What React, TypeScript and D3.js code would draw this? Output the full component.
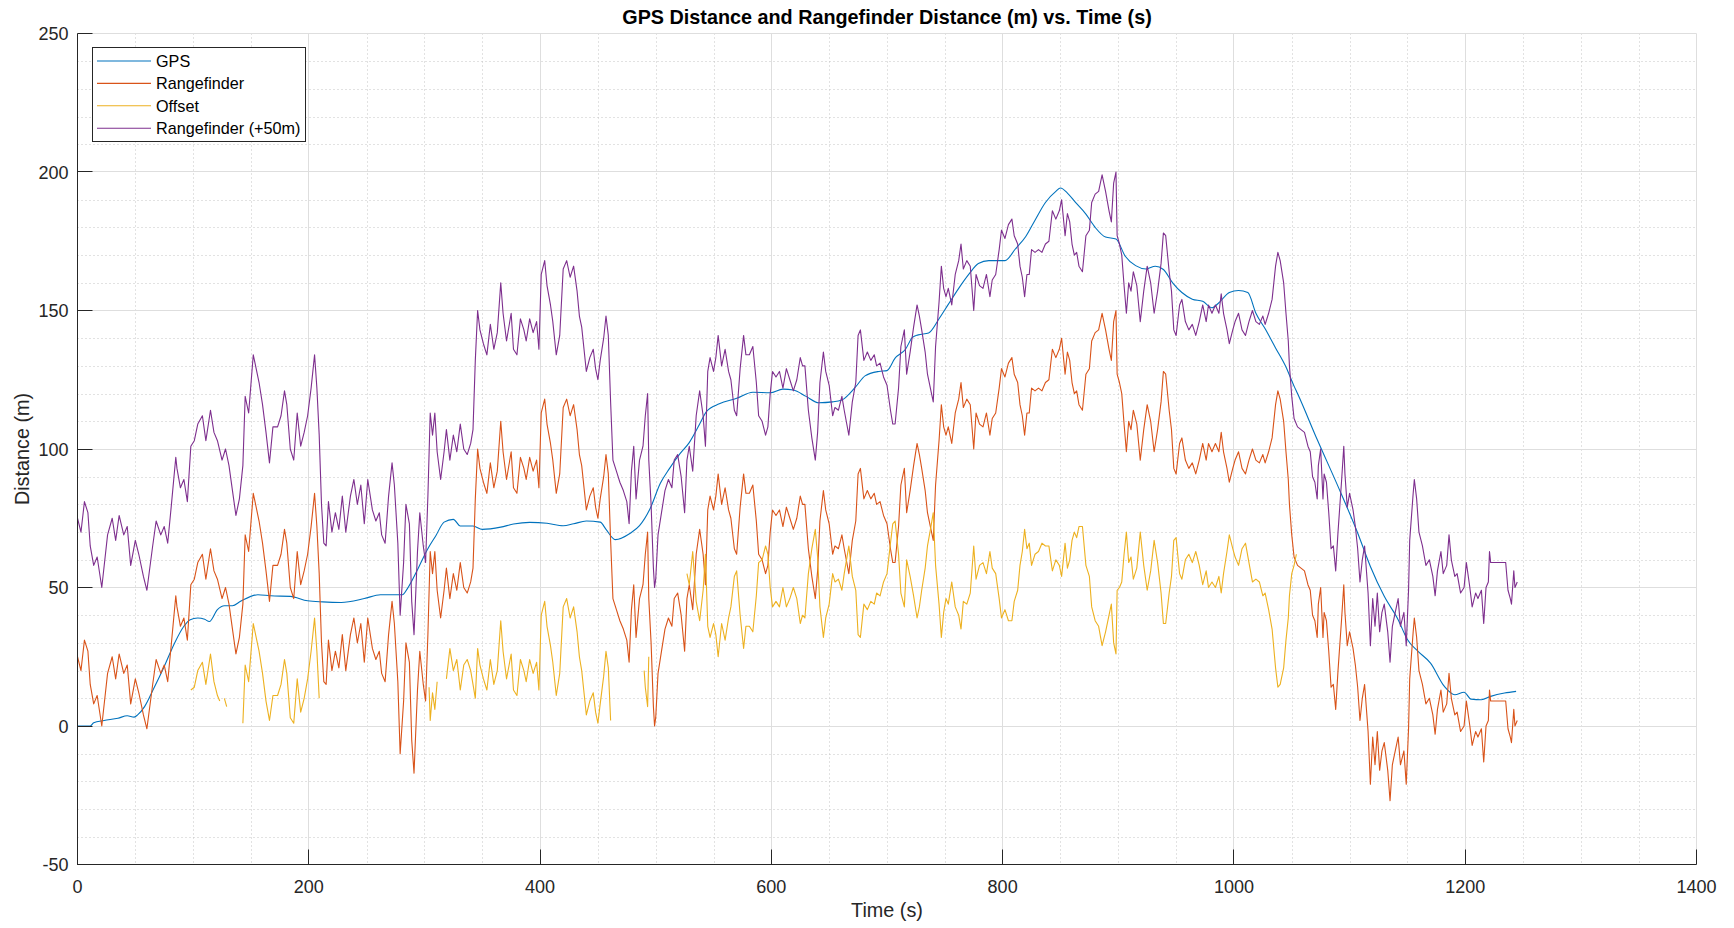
import React from "react";
import * as d3 from "d3";

// ---------- data ----------
const xTicks = [0, 200, 400, 600, 800, 1000, 1200, 1400];
const yTicks = [-50, 0, 50, 100, 150, 200, 250];
const seriesNames = ["GPS", "Rangefinder", "Offset", "Rangefinder (+50m)"];
const seriesColors = ["#0072BD", "#D95319", "#EDB120", "#7E2F8E"];

// GPS distance [time s, distance m]
const gps: [number, number][] = [
  [0, 0], [11, 0], [14, 1.2], [23, 2], [35, 2.8], [43, 3.7], [49, 3.2], [52, 4], [58, 7], [66, 13.6],
  [75, 21.5], [84, 30], [92, 36], [97, 38.3], [104, 39], [110, 38.5], [114, 37.7], [121, 42], [127, 43.4],
  [134, 43.4], [141, 45], [156, 47.4], [167, 47], [184, 46.8], [199, 45.2], [212, 44.8], [228, 44.6],
  [248, 46], [262, 47.4], [281, 47.4], [285, 49.4], [294, 56.4], [302, 63.3], [310, 68.8], [317, 73.6],
  [325, 74.6], [331, 72.2], [342, 72.2], [350, 71], [366, 71.8], [377, 72.9], [391, 73.5], [406, 73.2],
  [420, 72.3], [429, 73], [440, 74], [452, 73.6], [457, 71], [465, 67.3], [478, 69.6], [486, 72.3],
  [495, 78.3], [504, 87.6], [512, 93], [521, 98.3], [529, 102.3], [538, 109], [544, 113.6], [555, 116.3],
  [570, 118.3], [584, 120.5], [599, 120.3], [610, 121.6], [619, 121.3], [630, 119], [641, 116.7],
  [653, 117], [661, 117.7], [673, 122.5], [681, 126.4], [693, 128], [700, 128.3], [707, 132.8],
  [716, 136], [722, 140.3], [727, 141.2], [736, 141.9], [745, 147], [753, 152.2], [762, 158],
  [771, 163.2], [779, 167], [788, 168], [802, 168], [811, 172.2], [820, 176.7], [828, 182.6], [837, 189],
  [846, 193], [850, 194.2], [856, 192.4], [863, 189], [872, 184.8], [880, 180], [889, 176.5],
  [898, 175.8], [906, 169.6], [915, 166.2], [924, 165], [932, 166], [939, 164.8], [947, 160],
  [955, 156.5], [964, 154.1], [973, 153.3], [981, 151], [987, 152.8], [996, 156.5], [1004, 157.2],
  [1012, 156.5], [1019, 149], [1027, 143.4], [1036, 136.5], [1045, 129.6], [1052, 122.7], [1055, 120],
  [1072, 103.4], [1090, 86.5], [1107, 69.7], [1118, 57.6], [1130, 46.8], [1142, 38.4], [1150, 31.2],
  [1159, 27], [1170, 22.7], [1182, 14.3], [1191, 11.3], [1199, 12.2], [1205, 9.7], [1214, 9.5],
  [1222, 10.7], [1234, 11.9], [1244, 12.5],
];

// Rangefinder distance [time s, distance m]
const rangefinder: [number, number][] = [
  [0, 25], [3, 20], [6, 31], [9, 27], [11, 15], [14, 8], [17, 11], [21, 0], [26, 19], [30, 25], [33, 17],
  [36, 26], [40, 19], [43, 22], [46, 8], [50, 17], [53, 12], [57, 4], [60, -1], [65, 15], [68, 24], [72, 19],
  [75, 22], [78, 16], [81, 29], [85, 47], [86, 43], [89, 36], [92, 39], [95, 31], [98, 51], [101, 53],
  [104, 59], [108, 62], [111, 53], [115, 64], [118, 56], [121, 53], [125, 46], [128, 50], [131, 44],
  [134, 35], [137, 26], [140, 32], [143, 44], [145, 69], [148, 63], [152, 84], [154, 80], [157, 74],
  [160, 66], [163, 56], [166, 45], [169, 58], [173, 58], [176, 62], [179, 71], [181, 66], [184, 50],
  [187, 46], [190, 63], [193, 51], [196, 56], [199, 62], [202, 72], [205, 84], [207, 72], [209, 55],
  [211, 30], [213, 16], [215, 15], [217, 31], [220, 20], [223, 27], [226, 21], [229, 33], [232, 20],
  [236, 33], [239, 39], [242, 30], [245, 37], [248, 23], [251, 39], [255, 28], [258, 24], [261, 27],
  [263, 19], [266, 16], [269, 33], [272, 45], [274, 37], [277, 16], [279, -10], [282, 9], [284, 30],
  [287, 23], [289, -5], [291, -17], [294, 13], [296, 27], [299, 15], [301, 9], [303, 33], [305, 63],
  [307, 55], [309, 63], [311, 49], [314, 39], [317, 49], [319, 57], [322, 46], [325, 55], [328, 49],
  [331, 59], [334, 50], [337, 48], [340, 52], [342, 57], [344, 82], [346, 100], [348, 93], [351, 88],
  [354, 84], [357, 95], [360, 86], [363, 92], [366, 110], [368, 99], [371, 89], [375, 99], [377, 86],
  [380, 84], [383, 97], [386, 93], [388, 89], [391, 97], [394, 92], [397, 96], [399, 86], [401, 113],
  [404, 118], [406, 109], [409, 102], [411, 96], [414, 84], [417, 91], [420, 115], [423, 118], [426, 112],
  [429, 116], [432, 107], [434, 98], [436, 94], [438, 86], [440, 78], [443, 83], [446, 86], [448, 79],
  [450, 75], [452, 82], [455, 90], [457, 98], [459, 91], [461, 67], [463, 46], [466, 42], [469, 38],
  [472, 35], [475, 31], [477, 23], [479, 42], [481, 51], [483, 32], [486, 46], [489, 51], [491, 62],
  [493, 70], [494, 46], [496, 30], [498, 7], [499, 0], [500, 3], [502, 19], [505, 27], [508, 35],
  [511, 39], [514, 36], [516, 46], [519, 48], [522, 40], [525, 27], [527, 46], [529, 51], [532, 42],
  [535, 62], [538, 71], [541, 62], [543, 51], [545, 78], [547, 83], [550, 78], [552, 83], [554, 91],
  [557, 80], [560, 86], [563, 78], [565, 75], [568, 64], [570, 62], [573, 79], [576, 91], [578, 84],
  [581, 84], [584, 87], [587, 74], [589, 62], [592, 60], [595, 55], [597, 58], [599, 70], [601, 78],
  [604, 76], [607, 78], [610, 72], [613, 79], [616, 75], [619, 71], [622, 75], [625, 83], [627, 80],
  [629, 80], [632, 64], [635, 54], [638, 46], [640, 56], [642, 74], [645, 85], [647, 78], [650, 73],
  [653, 62], [655, 65], [658, 64], [661, 69], [663, 64], [667, 55], [670, 67], [673, 74], [675, 91],
  [677, 93], [680, 82], [683, 85], [686, 82], [689, 84], [691, 80], [694, 81], [697, 76], [700, 73],
  [703, 64], [705, 59], [707, 59], [710, 72], [712, 87], [715, 93], [717, 77], [720, 85], [723, 94],
  [726, 102], [728, 98], [730, 93], [733, 85], [735, 77], [738, 71], [740, 67], [742, 87], [745, 103],
  [747, 116], [749, 108], [751, 105], [753, 108], [756, 102], [759, 113], [762, 118], [764, 124],
  [766, 115], [769, 118], [772, 116], [775, 100], [777, 113], [780, 109], [783, 108], [786, 113],
  [789, 105], [791, 111], [794, 113], [797, 122], [799, 129], [802, 126], [805, 131], [808, 133],
  [810, 127], [813, 124], [815, 116], [817, 112], [819, 105], [821, 113], [823, 113], [825, 122],
  [828, 121], [831, 122], [834, 121], [837, 124], [840, 125], [843, 136], [846, 133], [849, 136],
  [851, 140], [854, 127], [856, 135], [858, 132], [860, 124], [862, 120], [864, 121], [866, 116],
  [869, 114], [872, 127], [875, 129], [877, 139], [880, 142], [883, 143], [886, 149], [889, 143],
  [892, 136], [894, 132], [896, 146], [898, 150], [899, 127], [901, 124], [903, 120], [905, 109],
  [907, 99], [909, 110], [911, 107], [913, 114], [916, 109], [919, 96], [922, 107], [925, 116],
  [928, 110], [931, 99], [934, 107], [937, 117], [939, 128], [941, 127], [944, 114], [946, 107],
  [948, 93], [950, 91], [953, 102], [955, 104], [958, 96], [961, 93], [964, 95], [967, 91], [970, 96],
  [973, 102], [976, 96], [978, 102], [981, 99], [984, 102], [987, 99], [989, 106], [991, 99], [994, 93],
  [996, 88], [999, 93], [1001, 96], [1004, 99], [1007, 93], [1010, 91], [1013, 96], [1016, 100],
  [1019, 96], [1022, 95], [1025, 98], [1027, 95], [1030, 99], [1033, 104], [1036, 116], [1038, 121],
  [1040, 118], [1043, 110], [1045, 99], [1047, 89], [1048, 80], [1050, 69], [1052, 61], [1055, 58],
  [1058, 57], [1061, 56], [1064, 51], [1066, 49], [1068, 40], [1070, 38], [1072, 32], [1073, 44],
  [1075, 50], [1077, 32], [1078, 41], [1080, 38], [1082, 27], [1084, 14], [1086, 15], [1088, 6],
  [1090, 20], [1093, 38], [1095, 51], [1096, 41], [1098, 29], [1100, 34], [1103, 28], [1105, 22],
  [1107, 14], [1109, 2], [1111, 10], [1113, 15], [1116, -2], [1118, -21], [1120, -4], [1122, -14],
  [1124, -2], [1126, -16], [1128, -9], [1130, -6], [1133, -16], [1135, -27], [1137, -14], [1139, -10],
  [1142, -4], [1144, -14], [1147, -9], [1149, -21], [1151, -1], [1152, 17], [1155, 34], [1156, 39],
  [1158, 32], [1160, 20], [1163, 15], [1166, 8], [1169, 10], [1172, 4], [1174, -3], [1176, 6],
  [1179, 13], [1181, 5], [1184, 8], [1186, 19], [1188, 10], [1191, 4], [1193, 5], [1196, -2], [1199, 0],
  [1201, 9], [1204, 0], [1206, -7], [1209, -2], [1211, -4], [1214, -1], [1216, -13], [1218, 0],
  [1220, 2], [1221, 13], [1222, 9], [1235, 9], [1237, -1], [1239, -4], [1240, -6], [1242, 6], [1243, 0],
  [1245, 2],
];

// Offset |GPS - Rangefinder| [time s, m]; null = gap in the plotted series
const offset: [number, number | null][] = [
  [98, 13], [101, 14], [104, 20], [108, 23], [111, 15], [115, 26], [118, 16], [121, 11], [123, 9], [125, null],
  [127, 10], [129, 7], [130, null],
  [143, 1], [145, 22], [148, 16], [152, 37], [154, 33], [157, 27], [160, 19], [163, 9], [166, 2], [169, 11],
  [173, 11], [176, 15], [179, 24], [181, 19], [184, 3], [187, 1], [190, 17], [193, 5], [196, 10], [199, 17],
  [202, 27], [205, 39], [207, 27], [209, 10], [210, null],
  [304, 14], [305, 2], [307, 12], [309, 6], [311, 16], [312, null],
  [319, 17], [322, 28], [325, 20], [328, 24], [331, 13], [334, 22], [337, 24], [340, 20], [342, 15],
  [344, 10], [346, 28], [348, 22], [351, 17], [354, 13], [357, 24], [360, 15], [363, 20], [366, 38],
  [368, 27], [371, 17], [375, 26], [377, 13], [380, 11], [383, 24], [386, 20], [388, 16], [391, 24],
  [394, 19], [397, 23], [399, 13], [401, 40], [404, 45], [406, 36], [409, 29], [411, 23], [414, 11],
  [417, 19], [420, 43], [423, 46], [426, 39], [429, 43], [432, 34], [434, 25], [436, 20], [438, 12],
  [440, 4], [443, 9], [446, 12], [448, 5], [450, 1], [452, 8], [455, 18], [457, 27], [459, 21], [461, 2],
  [462, null],
  [490, 20], [491, 14], [493, 7], [494, 25], [495, null],
  [527, 55], [529, 51], [532, 63], [535, 45], [538, 38], [541, 49], [543, 62], [545, 36], [547, 32],
  [550, 37], [552, 33], [554, 25], [557, 37], [560, 31], [563, 39], [565, 43], [568, 54], [570, 56],
  [573, 40], [576, 28], [578, 36], [581, 36], [584, 34], [587, 47], [589, 59], [592, 60], [595, 65],
  [597, 62], [599, 50], [601, 43], [604, 45], [607, 43], [610, 50], [613, 43], [616, 46], [619, 50],
  [622, 46], [625, 37], [627, 40], [629, 39], [632, 55], [635, 64], [638, 71], [640, 61], [642, 43],
  [645, 32], [647, 39], [650, 44], [653, 55], [655, 52], [658, 53], [661, 49], [663, 55], [667, 65],
  [670, 54], [673, 49], [675, 33], [677, 32], [680, 44], [683, 42], [686, 45], [689, 44], [691, 48],
  [694, 47], [697, 52], [700, 55], [703, 66], [705, 73], [707, 74], [710, 62], [712, 48], [715, 43],
  [717, 60], [720, 54], [723, 47], [726, 39], [728, 43], [730, 49], [733, 57], [735, 65], [738, 72],
  [740, 77], [742, 58], [745, 44], [747, 32], [749, 41], [751, 46], [753, 44], [756, 52], [759, 43],
  [762, 40], [764, 35], [766, 45], [769, 44], [772, 48], [775, 65], [777, 53], [780, 58], [783, 59],
  [786, 55], [789, 63], [791, 57], [794, 55], [797, 46], [799, 39], [802, 42], [805, 38], [808, 38],
  [810, 45], [813, 49], [815, 58], [817, 63], [819, 71], [821, 64], [823, 66], [825, 58], [828, 62],
  [831, 63], [834, 66], [837, 65], [840, 65], [843, 56], [846, 60], [849, 58], [851, 54], [854, 66],
  [856, 57], [858, 60], [860, 67], [862, 70], [864, 68], [866, 72], [869, 72], [872, 58], [875, 54],
  [877, 43], [880, 38], [883, 36], [886, 29], [889, 34], [892, 40], [894, 44], [896, 30], [898, 26],
  [899, 49], [901, 50], [903, 52], [905, 62], [907, 70], [909, 59], [911, 61], [913, 53], [916, 57],
  [919, 70], [922, 58], [925, 49], [928, 56], [931, 67], [934, 59], [937, 48], [939, 37], [941, 37],
  [944, 48], [946, 54], [948, 67], [950, 68], [953, 55], [955, 53], [958, 60], [961, 62], [964, 59],
  [967, 63], [970, 58], [973, 51], [976, 56], [978, 50], [981, 52], [984, 50], [987, 54], [989, 48],
  [991, 55], [994, 63], [996, 69], [999, 64], [1001, 61], [1004, 58], [1007, 64], [1010, 66], [1013, 59],
  [1016, 52], [1019, 53], [1022, 52], [1025, 47], [1027, 48], [1030, 42], [1033, 35], [1036, 21],
  [1038, 14], [1040, 15], [1043, 21], [1045, 31], [1047, 39], [1048, 47], [1050, 55], [1052, 58],
  [1054, 62],
];

// The fourth series is the rangefinder shifted by +50 m, as its legend label says
const rangefinderPlus50: [number, number][] = rangefinder.map(([t, v]) => [t, v + 50]);

// ---------- layout ----------
const W = 1734;
const H = 928;
const left = 77.5;
const right = 1696.5;
const top = 33.5;
const bottom = 864.5;
const FONT = "'Liberation Sans', Arial, Helvetica, sans-serif";
const AXIS = "#262626";

export default function App() {
  const x = d3.scaleLinear().domain([0, 1400]).range([left, right]);
  const y = d3.scaleLinear().domain([-50, 250]).range([bottom, top]);

  const line = d3
    .line<[number, number | null]>()
    .defined((d) => d[1] !== null)
    .x((d) => x(d[0]))
    .y((d) => y(d[1] as number));
  const gpsLine = d3
    .line<[number, number]>()
    .x((d) => x(d[0]))
    .y((d) => y(d[1]))
    .curve(d3.curveMonotoneX);

  const minorX = d3.range(0, 1401, 50).filter((v) => v % 200 !== 0);
  const minorY = d3.range(-50, 251, 10).filter((v) => v % 50 !== 0);

  const series: { d: string; color: string }[] = [
    { d: gpsLine(gps) || "", color: seriesColors[0] },
    { d: line(rangefinder) || "", color: seriesColors[1] },
    { d: line(offset) || "", color: seriesColors[2] },
    { d: line(rangefinderPlus50) || "", color: seriesColors[3] },
  ];

  const legendRowY = (i: number) => 61 + i * 22.4;

  return (
    <svg
      width={W}
      height={H}
      viewBox={`0 0 ${W} ${H}`}
      style={{ position: "absolute", left: 0, top: 0, background: "#fff" }}
      fontFamily={FONT}
    >
      <rect x={0} y={0} width={W} height={H} fill="#fff" />
      {/* minor grid */}
      <g stroke="#c4c4c4" strokeWidth={1} strokeDasharray="1 3" fill="none">
        {minorX.map((v) => (
          <line key={"mx" + v} x1={Math.round(x(v)) + 0.5} x2={Math.round(x(v)) + 0.5} y1={top} y2={bottom} />
        ))}
        {minorY.map((v) => (
          <line key={"my" + v} x1={left} x2={right} y1={Math.round(y(v)) + 0.5} y2={Math.round(y(v)) + 0.5} />
        ))}
      </g>
      {/* major grid */}
      <g stroke="#dedede" strokeWidth={1} fill="none">
        {xTicks.map((v) => (
          <line key={"gx" + v} x1={Math.round(x(v) - 0.5) + 0.5} x2={Math.round(x(v) - 0.5) + 0.5} y1={top} y2={bottom} />
        ))}
        {yTicks.map((v) => (
          <line key={"gy" + v} x1={left} x2={right} y1={Math.round(y(v) - 0.5) + 0.5} y2={Math.round(y(v) - 0.5) + 0.5} />
        ))}
      </g>
      {/* data */}
      <g fill="none" strokeWidth={1.1} strokeLinejoin="round">
        {series.map((s, i) => (
          <path key={i} d={s.d} stroke={s.color} />
        ))}
      </g>
      {/* axes */}
      <g stroke={AXIS} strokeWidth={1} fill="none">
        <line x1={left} x2={left} y1={top} y2={bottom + 0.5} />
        <line x1={left} x2={right} y1={bottom} y2={bottom} />
        {xTicks.map((v) => (
          <line key={"tx" + v} x1={Math.round(x(v) - 0.5) + 0.5} x2={Math.round(x(v) - 0.5) + 0.5} y1={bottom} y2={bottom - 15} />
        ))}
        {yTicks.map((v) => (
          <line key={"ty" + v} x1={left} x2={left + 15} y1={Math.round(y(v) - 0.5) + 0.5} y2={Math.round(y(v) - 0.5) + 0.5} />
        ))}
      </g>
      <g fill={AXIS} fontSize={18}>
        {xTicks.map((v) => (
          <text key={"lx" + v} x={x(v)} y={bottom + 28} textAnchor="middle">
            {v}
          </text>
        ))}
        {yTicks.map((v) => (
          <text key={"ly" + v} x={left - 9} y={y(v) + 6.8} textAnchor="end">
            {v}
          </text>
        ))}
      </g>
      {/* title & labels */}
      <text x={(left + right) / 2} y={24} textAnchor="middle" fontSize={19.8} fontWeight="bold" fill="#000">
        GPS Distance and Rangefinder Distance (m) vs. Time (s)
      </text>
      <text x={(left + right) / 2} y={917} textAnchor="middle" fontSize={19.8} fill={AXIS}>
        Time (s)
      </text>
      <text
        transform={`translate(29,${(top + bottom) / 2}) rotate(-90)`}
        textAnchor="middle"
        fontSize={19.8}
        fill={AXIS}
      >
        Distance (m)
      </text>
      {/* legend */}
      <g>
        <rect x={92.5} y={47.5} width={213} height={94} fill="#fff" stroke={AXIS} strokeWidth={1} />
        {seriesNames.map((name, i) => (
          <g key={name}>
            <line x1={97} x2={151} y1={legendRowY(i)} y2={legendRowY(i)} stroke={seriesColors[i]} strokeWidth={1.1} />
            <text x={156} y={legendRowY(i) + 6} fontSize={16.2} fill="#000">
              {name}
            </text>
          </g>
        ))}
      </g>
    </svg>
  );
}
